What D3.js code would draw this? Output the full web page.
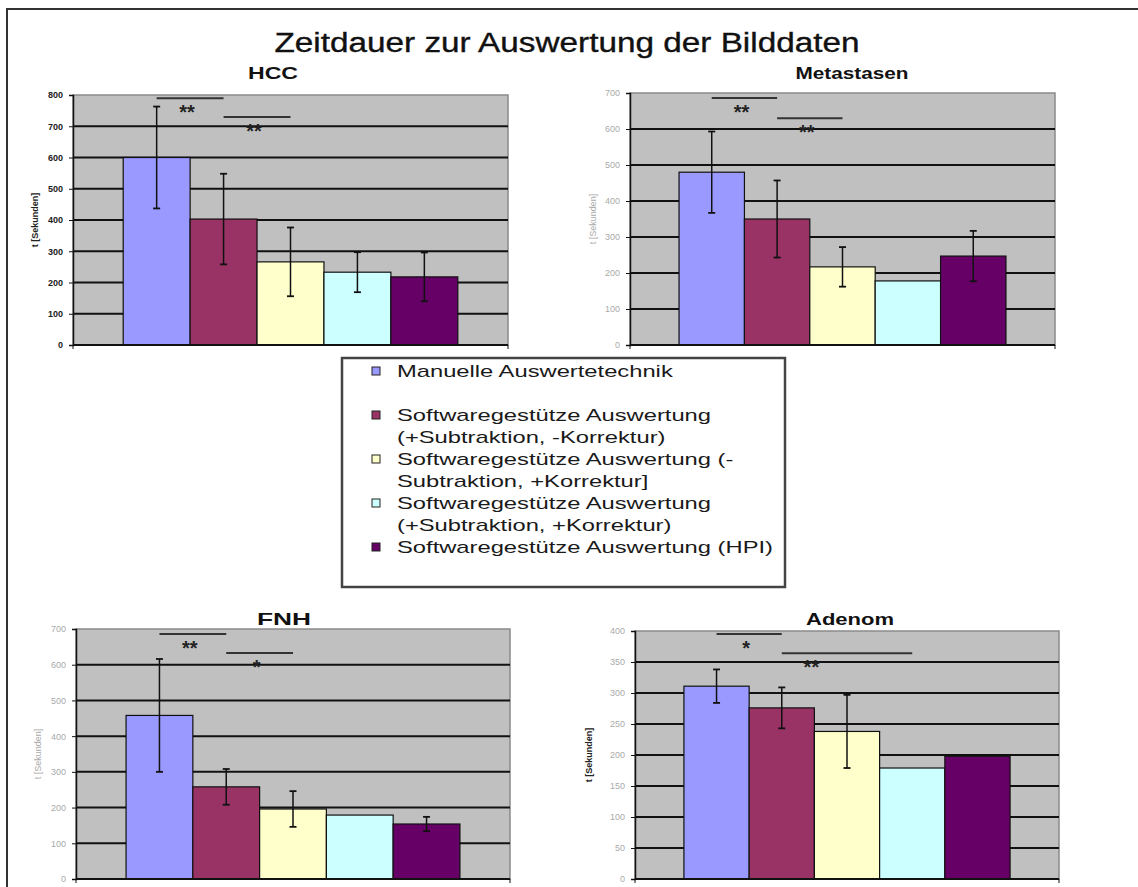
<!DOCTYPE html>
<html>
<head>
<meta charset="utf-8">
<script src="https://cdn.jsdelivr.net/npm/d3@7"></script>
<style>
  body { margin: 0; background: #fff; }
  text { font-family: Arial, "Liberation Sans", sans-serif; }
</style>
</head>
<body>
<script>
// series (legend entries) and their fill colours
var seriesNames = [
    ["Manuelle Auswertetechnik"],
    ["Softwaregestütze Auswertung", "(+Subtraktion, -Korrektur)"],
    ["Softwaregestütze Auswertung  (-", "Subtraktion, +Korrektur]"],
    ["Softwaregestütze Auswertung", "(+Subtraktion, +Korrektur)"],
    ["Softwaregestütze Auswertung (HPI)"]
];
var seriesColors = ["#9999FF", "#993366", "#FFFFCC", "#CCFFFF", "#660066"];

var chartTitle = "Zeitdauer zur Auswertung der Bilddaten";
var panelTitles = ["HCC", "Metastasen", "FNH", "Adenom"];
var yLabel = "t [Sekunden]";

// mean time in seconds, one value per series
var hccMeans = [600, 403, 266, 233, 218];
var metMeans = [480, 350, 217, 178, 247];
var fnhMeans = [458, 258, 196, 179, 154];
var adeMeans = [311, 276, 238, 179, 198];

// error bars (+/-), 0 = none drawn
var hccErr = [163, 145, 110, 64, 78];
var metErr = [113, 107, 55, 0, 70];
var fnhErr = [158, 50, 50, 0, 20];
var adeErr = [27, 33, 59, 0, 0];

// y axis maximum and tick step
var yMaxes = [800, 700, 700, 400];
var ySteps = [100, 100, 100, 50];

// significance brackets: [from series, to series, height, label]
var hccSig = [[0, 1, 790, "**"], [1, 2, 730, "**"]];
var metSig = [[0, 1, 686, "**"], [1, 2, 630, "**"]];
var fnhSig = [[0, 1, 686, "**"], [1, 2, 633, "*"]];
var adeSig = [[0, 1, 395, "*"], [1, 3, 364, "**"]];

var allMeans = [hccMeans, metMeans, fnhMeans, adeMeans];
var allErr = [hccErr, metErr, fnhErr, adeErr];
var allSig = [hccSig, metSig, fnhSig, adeSig];

// plot rectangles and text placement for the four panels
var layout = [
    {x0: 73, x1: 508, y0: 95, y1: 345, tx: 273, ty: 79, tw: 50, lx: 38, tickColor: "#222", tickWeight: "bold", labelColor: "#222", labelWeight: "bold"},
    {x0: 630, x1: 1055, y0: 93, y1: 345, tx: 852, ty: 79, tw: 113, lx: 596, tickColor: "#aaa", tickWeight: "normal", labelColor: "#aaa", labelWeight: "normal"},
    {x0: 76, x1: 510, y0: 629, y1: 879, tx: 284, ty: 625, tw: 54, lx: 41, tickColor: "#aaa", tickWeight: "normal", labelColor: "#aaa", labelWeight: "normal"},
    {x0: 635, x1: 1059, y0: 631, y1: 879, tx: 850, ty: 625, tw: 88, lx: 592, tickColor: "#aaa", tickWeight: "normal", labelColor: "#222", labelWeight: "bold"}
];

var svg = d3.select("body").append("svg")
    .attr("width", 1138)
    .attr("height", 887);

svg.append("rect").attr("width", 1138).attr("height", 887).attr("fill", "#fff");

// outer frame (runs off the right and bottom edges)
svg.append("rect")
    .attr("x", 7).attr("y", 9)
    .attr("width", 1200).attr("height", 1000)
    .attr("fill", "none")
    .attr("stroke", "#333")
    .attr("stroke-width", 2);

// the picture is stretched sideways, so texts get a fixed width
function wideText(parent, x, y, str, size, width, anchor) {
    var t = parent.append("text")
        .attr("x", x).attr("y", y)
        .attr("font-size", size)
        .attr("text-anchor", anchor || "middle")
        .text(str);
    if (width) t.attr("textLength", width).attr("lengthAdjust", "spacingAndGlyphs");
    return t;
}

wideText(svg, 567, 52, chartTitle, 27, 585)
    .attr("fill", "#111")
    .attr("stroke", "#111")
    .attr("stroke-width", 0.35);

panelTitles.forEach(function (name, p) {
    var L = layout[p];
    var g = svg.append("g");
    var yMax = yMaxes[p], step = ySteps[p];

    var y = d3.scaleLinear().domain([0, yMax]).range([L.y1, L.y0]);
    var x = d3.scaleBand().domain(d3.range(seriesColors.length))
        .range([L.x0, L.x1])
        .paddingInner(0)
        .paddingOuter(0.75);

    // plot background
    g.append("rect")
        .attr("x", L.x0).attr("y", L.y0)
        .attr("width", L.x1 - L.x0).attr("height", L.y1 - L.y0)
        .attr("fill", "#C0C0C0")
        .attr("stroke", "#8a8a8a")
        .attr("stroke-width", 1.5);

    // gridlines
    g.selectAll(".grid")
        .data(d3.range(step, yMax, step))
        .enter().append("line")
            .attr("x1", L.x0).attr("x2", L.x1)
            .attr("y1", function (d) { return y(d); })
            .attr("y2", function (d) { return y(d); })
            .attr("stroke", "#111")
            .attr("stroke-width", 2);

    // bars
    g.selectAll(".bar")
        .data(allMeans[p])
        .enter().append("rect")
            .attr("x", function (d, i) { return x(i); })
            .attr("y", function (d) { return y(d); })
            .attr("width", x.bandwidth())
            .attr("height", function (d) { return L.y1 - y(d); })
            .attr("fill", function (d, i) { return seriesColors[i]; })
            .attr("stroke", "#111")
            .attr("stroke-width", 1.2);

    // error bars
    allMeans[p].forEach(function (m, i) {
        var e = allErr[p][i];
        if (!e) return;
        var cx = x(i) + x.bandwidth() / 2;
        g.append("line").attr("x1", cx).attr("x2", cx)
            .attr("y1", y(m + e)).attr("y2", y(m - e))
            .attr("stroke", "#111").attr("stroke-width", 1.5);
        [m + e, m - e].forEach(function (v) {
            g.append("line").attr("x1", cx - 3.5).attr("x2", cx + 3.5)
                .attr("y1", y(v)).attr("y2", y(v))
                .attr("stroke", "#111").attr("stroke-width", 1.8);
        });
    });

    // y axis
    var yAxis = d3.axisLeft(y)
        .tickValues(d3.range(0, yMax + 1, step))
        .tickSize(4)
        .tickPadding(6)
        .tickFormat(d3.format("d"));
    var ya = g.append("g")
        .attr("transform", "translate(" + L.x0 + ",0)")
        .call(yAxis);
    ya.select(".domain").attr("stroke", "#111").attr("stroke-width", 1.5);
    ya.selectAll(".tick line").attr("stroke", "#111");
    ya.selectAll(".tick text")
        .attr("font-size", 9)
        .attr("font-family", "Arial, sans-serif")
        .attr("font-weight", L.tickWeight)
        .attr("fill", L.tickColor);

    // x axis: baseline with end ticks
    g.append("line").attr("x1", L.x0).attr("x2", L.x1)
        .attr("y1", L.y1).attr("y2", L.y1)
        .attr("stroke", "#111").attr("stroke-width", 2);
    [L.x0, L.x1].forEach(function (xx) {
        g.append("line").attr("x1", xx).attr("x2", xx)
            .attr("y1", L.y1).attr("y2", L.y1 + 4)
            .attr("stroke", "#111").attr("stroke-width", 1);
    });

    // significance brackets
    allSig[p].forEach(function (s) {
        var xa = x(s[0]) + x.bandwidth() / 2;
        var xb = x(s[1]) + x.bandwidth() / 2;
        g.append("line").attr("x1", xa).attr("x2", xb)
            .attr("y1", y(s[2])).attr("y2", y(s[2]))
            .attr("stroke", "#333").attr("stroke-width", 2);
        g.append("text")
            .attr("x", x(s[0]) + x.bandwidth() - 3)
            .attr("y", y(s[2]) + 21)
            .attr("text-anchor", "middle")
            .attr("font-size", 20)
            .attr("font-weight", "bold")
            .attr("fill", "#222")
            .text(s[3]);
    });

    // y axis title
    var cy = (L.y0 + L.y1) / 2;
    g.append("text")
        .attr("transform", "translate(" + L.lx + "," + cy + ") rotate(-90)")
        .attr("text-anchor", "middle")
        .attr("font-size", 9)
        .attr("font-weight", L.labelWeight)
        .attr("fill", L.labelColor)
        .text(yLabel);

    // panel title
    wideText(g, L.tx, L.ty, name, 17, L.tw).attr("font-weight", "bold").attr("fill", "#111");
});

// legend
var lg = svg.append("g");
lg.append("rect")
    .attr("x", 342).attr("y", 358)
    .attr("width", 443).attr("height", 229)
    .attr("fill", "#fff")
    .attr("stroke", "#444")
    .attr("stroke-width", 2.5);

var lineH = 22;
var rowY = 371;
seriesNames.forEach(function (lines, i) {
    lg.append("rect")
        .attr("x", 372).attr("y", rowY - 4)
        .attr("width", 8).attr("height", 8)
        .attr("fill", seriesColors[i])
        .attr("stroke", "#222")
        .attr("stroke-width", 1);
    lines.forEach(function (str, j) {
        lg.append("text")
            .attr("class", "leg")
            .attr("x", 397)
            .attr("y", rowY + j * lineH + 6)
            .attr("font-size", 17)
            .attr("fill", "#1a1a1a")
            .text(str);
    });
    rowY += (i === 0 ? 2 : lines.length) * lineH;
});

// widen legend text so the longest line spans the box like in the picture
var widest = 0;
lg.selectAll(".leg").each(function () { widest = Math.max(widest, this.getComputedTextLength()); });
var k = 376 / widest;
lg.selectAll(".leg").each(function () {
    d3.select(this).attr("textLength", this.getComputedTextLength() * k)
        .attr("lengthAdjust", "spacingAndGlyphs");
});
</script>
</body>
</html>
